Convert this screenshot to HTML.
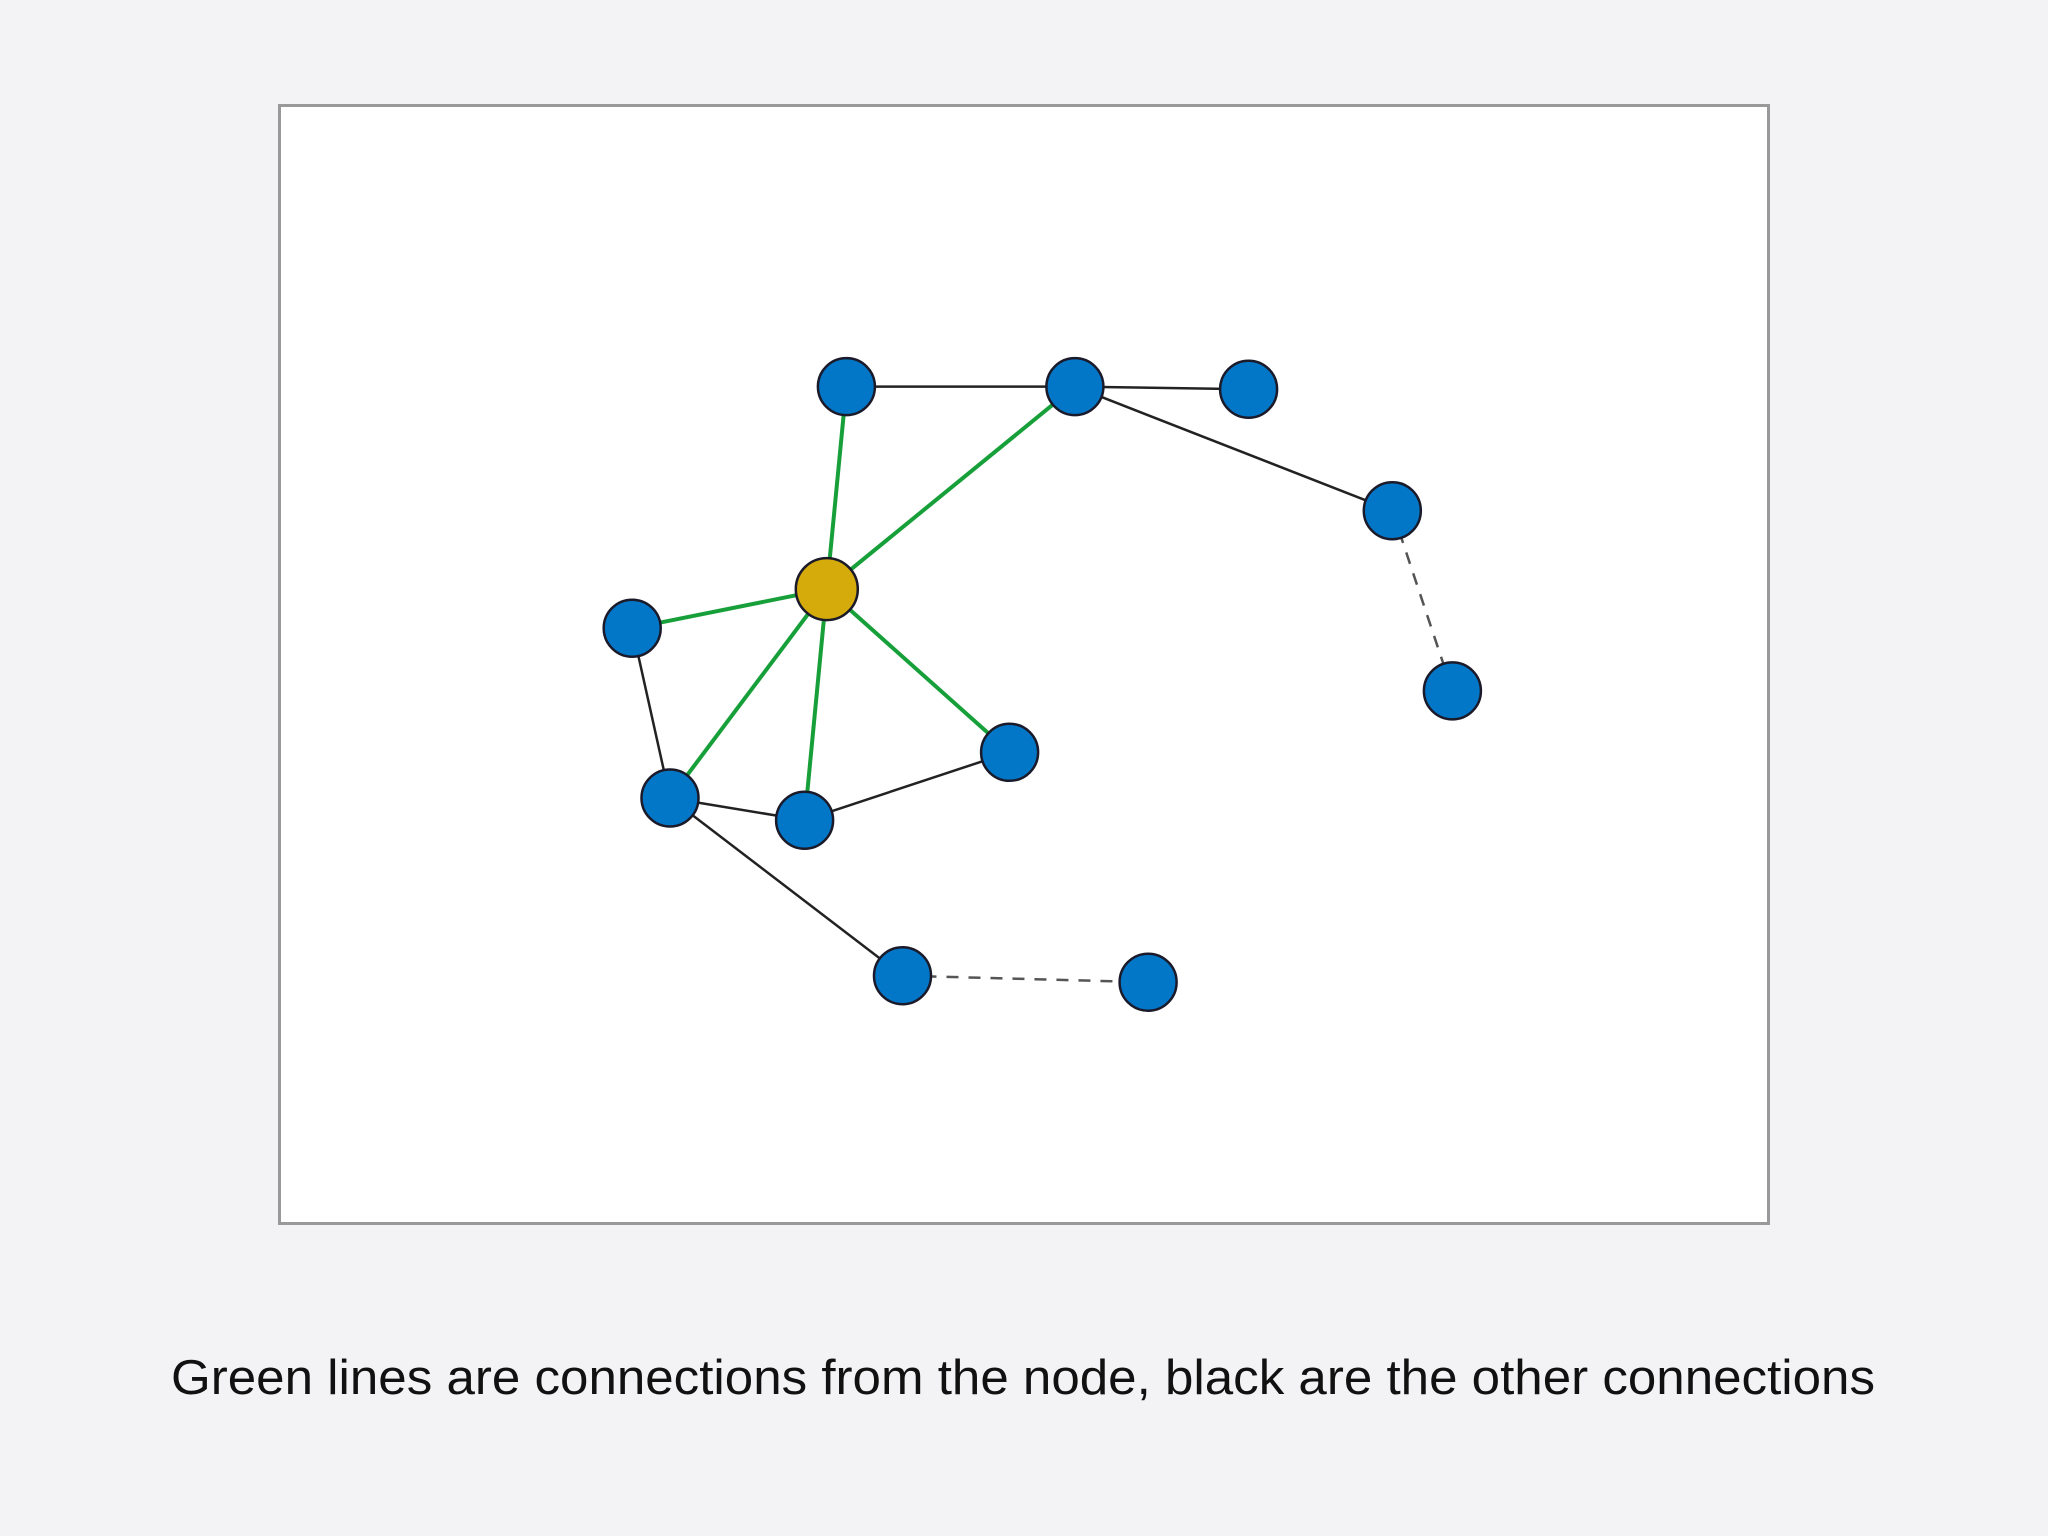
<!DOCTYPE html>
<html><head><meta charset="utf-8"><style>
html,body{margin:0;padding:0;background:#f3f3f5;}
svg{display:block;}
</style></head><body>
<svg width="2048" height="1536" viewBox="0 0 2048 1536" xmlns="http://www.w3.org/2000/svg">
<rect x="0" y="0" width="2048" height="1536" fill="#f3f3f5"/>
<rect x="279.5" y="105.5" width="1489" height="1118" fill="#ffffff" stroke="#999999" stroke-width="3"/>
<g stroke="#222" stroke-width="2.5" fill="none">
<line x1="846.4" y1="386.6" x2="1074.9" y2="386.6"/>
<line x1="1074.9" y1="386.6" x2="1248.6" y2="389.2"/>
<line x1="1074.9" y1="386.6" x2="1392.3" y2="510.7"/>
<line x1="632.2" y1="628.2" x2="670" y2="798"/>
<line x1="670" y1="798" x2="804.6" y2="820.2"/>
<line x1="804.6" y1="820.2" x2="1009.6" y2="752.3"/>
<line x1="670" y1="798" x2="902.5" y2="975.7"/>
</g>
<g stroke="#555" stroke-width="2.5" stroke-dasharray="12,10" fill="none">
<line x1="1392.3" y1="510.7" x2="1452.4" y2="690.9"/>
<line x1="902.5" y1="975.7" x2="1148.1" y2="982.2"/>
</g>
<g stroke="#17a03a" stroke-width="4" fill="none">
<line x1="826.8" y1="589.1" x2="846.4" y2="386.6"/>
<line x1="826.8" y1="589.1" x2="1074.9" y2="386.6"/>
<line x1="826.8" y1="589.1" x2="632.2" y2="628.2"/>
<line x1="826.8" y1="589.1" x2="670" y2="798"/>
<line x1="826.8" y1="589.1" x2="804.6" y2="820.2"/>
<line x1="826.8" y1="589.1" x2="1009.6" y2="752.3"/>
</g>
<g fill="#0277c8" stroke="#1a1a2a" stroke-width="2.5">
<circle cx="846.4" cy="386.6" r="28.5"/>
<circle cx="1074.9" cy="386.6" r="28.5"/>
<circle cx="1248.6" cy="389.2" r="28.5"/>
<circle cx="1392.3" cy="510.7" r="28.5"/>
<circle cx="1452.4" cy="690.9" r="28.5"/>
<circle cx="632.2" cy="628.2" r="28.5"/>
<circle cx="670" cy="798" r="28.5"/>
<circle cx="804.6" cy="820.2" r="28.5"/>
<circle cx="1009.6" cy="752.3" r="28.5"/>
<circle cx="902.5" cy="975.7" r="28.5"/>
<circle cx="1148.1" cy="982.2" r="28.5"/>
</g>
<circle cx="826.8" cy="589.1" r="31" fill="#d4ab0a" stroke="#1a1a2a" stroke-width="2.5"/>
<text x="1023" y="1394" text-anchor="middle" font-family="Liberation Sans, sans-serif" font-size="49" fill="#111" textLength="1704" lengthAdjust="spacingAndGlyphs">Green lines are connections from the node, black are the other connections</text>
</svg>
</body></html>
